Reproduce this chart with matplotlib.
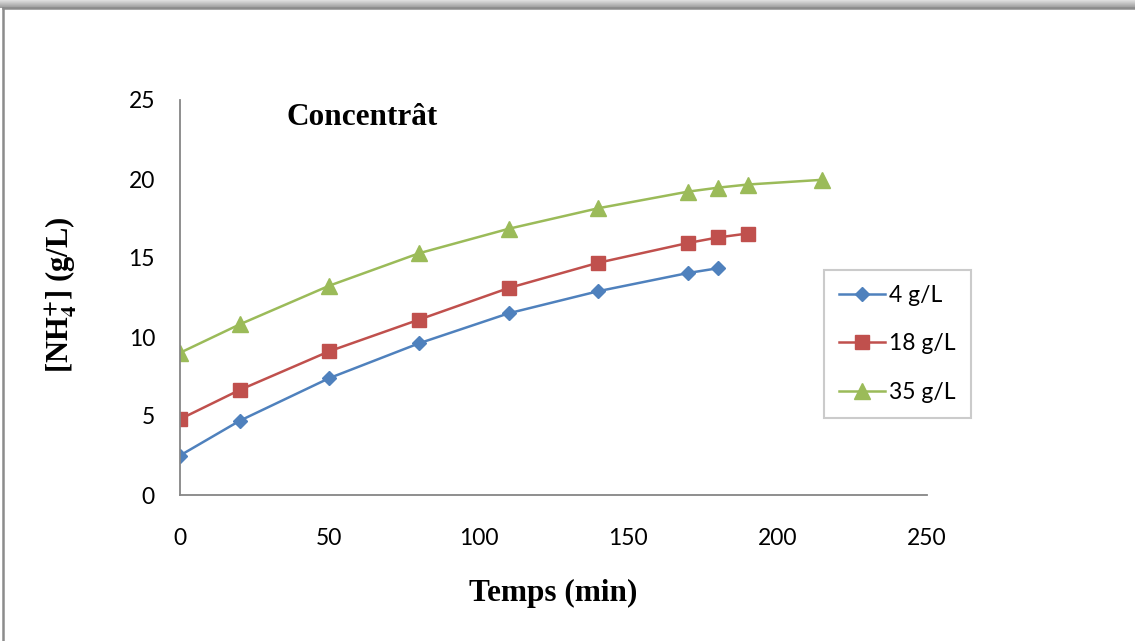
import matplotlib.pyplot as plt
import numpy as np
from matplotlib.lines import Line2D

plt.rcParams["font.family"] = "Lato"
plt.rcParams["mathtext.fontset"] = "stix"

# data
t_4 = [0, 20, 50, 80, 110, 140, 170, 180]
c_4 = [2.5, 4.7, 7.4, 9.6, 11.5, 12.9, 14.05, 14.35]
t_18 = [0, 20, 50, 80, 110, 140, 170, 180, 190]
c_18 = [4.8, 6.65, 9.1, 11.1, 13.1, 14.7, 15.95, 16.3, 16.55]
t_35 = [0, 20, 50, 80, 110, 140, 170, 180, 190, 215]
c_35 = [9.0, 10.8, 13.25, 15.3, 16.85, 18.15, 19.2, 19.45, 19.65, 19.95]
labels = ['4 g/L', '18 g/L', '35 g/L']

fig = plt.figure(figsize=(11.35, 6.41), dpi=100)
ax = fig.add_axes([180/1135, 146/641, 747/1135, 395/641])

ax.plot(t_4, c_4, marker='D', ms=6.8, color='#4F81BD', lw=1.8, label=labels[0])
ax.plot(t_18, c_18, marker='s', ms=10.5, color='#C0504D', lw=1.8, label=labels[1])
ax.plot(t_35, c_35, marker='^', ms=11, color='#9BBB59', lw=1.8, label=labels[2])

ax.set_xlim(0, 250)
ax.set_ylim(0, 25)
ax.set_xticks(np.arange(0, 251, 50))
ax.set_yticks(np.arange(0, 26, 5))
ax.spines['top'].set_visible(False)
ax.spines['right'].set_visible(False)
for s in ['left', 'bottom']:
    ax.spines[s].set_color('#868686')
    ax.spines[s].set_linewidth(1.3)
ax.tick_params(axis='both', length=0, labelsize=16.5)
ax.tick_params(axis='x', pad=24)
ax.tick_params(axis='y', pad=18)

ax.text(0.143, 0.955, 'Concentrât', transform=ax.transAxes, family='Liberation Serif',
        fontweight='bold', fontsize=22.5, va='center', ha='left')
fig.text(553/1135, 1 - 593/641, 'Temps (min)', family='Liberation Serif',
         fontweight='bold', fontsize=22.5, ha='center', va='center')
fig.text(61/1135, 1 - 295/641, r'[NH$_{\mathbf{4}}^{\mathbf{+}}$] (g/L)', family='Liberation Serif',
         fontweight='bold', fontsize=22, ha='center', va='center', rotation=90)

leg = fig.legend(loc='upper left', bbox_to_anchor=(824/1135, 1 - 270/641), fontsize=16.5,
                 frameon=True, fancybox=False, borderaxespad=0, borderpad=0.65,
                 labelspacing=1.2, handlelength=2.0, handletextpad=0.2)
leg.get_frame().set_edgecolor('#BFBFBF')
leg.get_frame().set_linewidth(1.5)

# outer chart frame with shadow on top
fig.add_artist(Line2D([3/1135, 3/1135], [0, 1 - 8/641], color='#8C8C8C', lw=1.8))
fig.add_artist(Line2D([3/1135, 1], [1 - 8/641, 1 - 8/641], color='#8C8C8C', lw=1.8))
sh = fig.add_axes([0, 1 - 8/641, 1, 8/641])
sh.imshow(np.linspace(0.88, 0.6, 20).reshape(-1, 1), cmap='gray', vmin=0, vmax=1,
          aspect='auto', extent=[0, 1, 0, 1])
sh.axis('off')

fig.savefig('out.png', dpi=100)
